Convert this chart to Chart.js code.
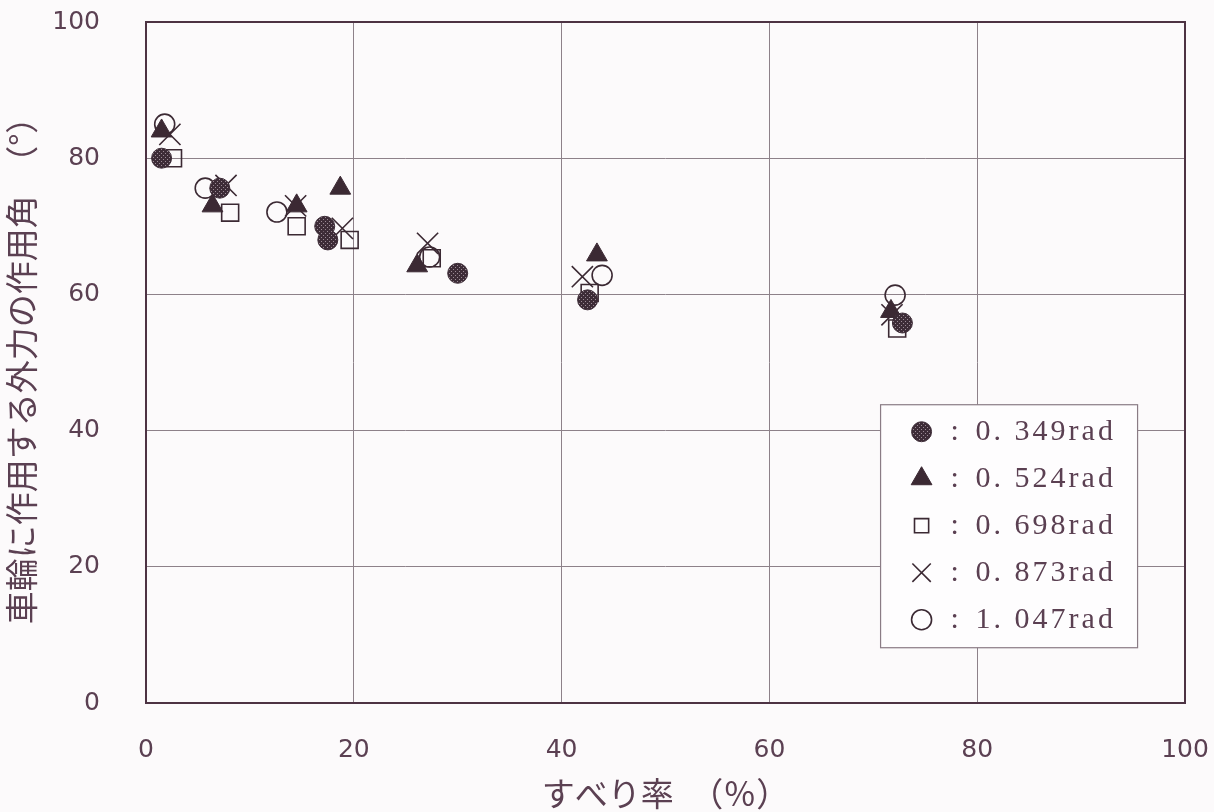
<!DOCTYPE html>
<html>
<head>
<meta charset="utf-8">
<script src="https://cdn.jsdelivr.net/npm/chart.js@4/dist/chart.umd.min.js"></script>
<style>
  html, body { margin: 0; padding: 0; background: #fcfafb; }
  #wrap { width: 1214px; height: 812px; }
</style>
</head>
<body>
<div id="wrap"><canvas id="c" width="1214" height="812"></canvas></div>
<script>
// Slip ratio (%) vs. angle of the external force acting on the wheel (deg)
const seriesLabels = ['0. 349rad', '0. 524rad', '0. 698rad', '0. 873rad', '1. 047rad'];

const slip349  = [1.5, 7.1, 17.2, 17.5, 30.0, 42.5, 72.8];
const angle349 = [80.0, 75.6, 70.0, 68.0, 63.1, 59.2, 55.8];

const slip524  = [1.5, 6.4, 14.5, 18.7, 26.1, 43.4, 71.7];
const angle524 = [84.0, 73.0, 73.0, 75.6, 64.2, 65.8, 57.5];

const slip698  = [2.6, 8.1, 14.5, 19.6, 27.5, 42.7, 72.3];
const angle698 = [80.0, 72.0, 70.0, 68.0, 65.3, 60.2, 55.0];

const slip873  = [2.3, 7.7, 14.4, 18.9, 27.1, 42.0, 71.8];
const angle873 = [83.5, 76.0, 73.0, 69.7, 67.5, 62.6, 57.0];

const slip1047  = [1.8, 5.7, 12.6, 27.3, 43.9, 72.1];
const angle1047 = [85.0, 75.6, 72.1, 65.5, 62.8, 59.9];

const xTicks = [0, 20, 40, 60, 80, 100];
const yTicks = [0, 20, 40, 60, 80, 100];

const xTitle = 'すべり率　（％）';
const yTitle = '車輪に作用する外力の作用角　（°）';

const INK = '#3b2933';
const TEXT = '#5b4052';

const canvas = document.getElementById('c');
const ctx0 = canvas.getContext('2d');

// stippled fill for the solid-circle series
function dotPattern() {
  const p = document.createElement('canvas');
  p.width = 4; p.height = 4;
  const g = p.getContext('2d');
  g.fillStyle = '#3d2c37';
  g.fillRect(0, 0, 4, 4);
  g.fillStyle = '#9c8b96';
  g.fillRect(1, 1, 1, 1);
  g.fillRect(3, 3, 1, 1);
  return ctx0.createPattern(p, 'repeat');
}

function pts(xs, ys) { return xs.map((x, i) => ({ x: x, y: ys[i] })); }

const styles = [
  { pointStyle: 'circle',   radius: 10, fill: dotPattern(), border: '#3d2c37', bw: 1 },
  { pointStyle: 'triangle', radius: 12, fill: INK, border: INK, bw: 1 },
  { pointStyle: 'rect',     radius: 12, fill: 'rgba(0,0,0,0)', border: INK, bw: 1.6 },
  { pointStyle: 'crossRot', radius: 15, fill: 'rgba(0,0,0,0)', border: INK, bw: 1.6 },
  { pointStyle: 'circle',   radius: 10, fill: 'rgba(0,0,0,0)', border: INK, bw: 1.6 }
];
const seriesData = [
  pts(slip349, angle349), pts(slip524, angle524), pts(slip698, angle698),
  pts(slip873, angle873), pts(slip1047, angle1047)
];

const datasets = seriesLabels.map((lab, i) => ({
  label: lab,
  data: seriesData[i],
  pointStyle: styles[i].pointStyle,
  pointRadius: styles[i].radius,
  pointHoverRadius: styles[i].radius,
  backgroundColor: styles[i].fill,
  borderColor: styles[i].border,
  borderWidth: styles[i].bw,
  showLine: false
}));

// frame around the plotting area
const framePlugin = {
  id: 'frame',
  beforeDatasetsDraw(chart) {
    const { ctx, chartArea: a } = chart;
    ctx.save();
    ctx.strokeStyle = '#4d3343';
    ctx.lineWidth = 2;
    ctx.strokeRect(a.left, a.top, a.right - a.left, a.bottom - a.top);
    ctx.restore();
  }
};

// boxed key in the lower right of the plot
const keyPlugin = {
  id: 'keyBox',
  afterDraw(chart) {
    const { ctx, chartArea: a } = chart;
    const x0 = a.left + (a.right - a.left) * 0.707;
    const y0 = a.top + (a.bottom - a.top) * 0.562;
    const w = 257, h = 243;
    ctx.save();
    ctx.fillStyle = '#fefdfe';
    ctx.fillRect(x0, y0, w, h);
    ctx.strokeStyle = '#8a7c85';
    ctx.lineWidth = 1.2;
    ctx.strokeRect(x0, y0, w, h);
    const legendR = [10, 12, 10, 13, 10];
    chart.data.datasets.forEach((ds, i) => {
      const cy = y0 + 27 + i * 47;
      const cx = x0 + 41;
      ctx.fillStyle = ds.backgroundColor;
      ctx.strokeStyle = ds.borderColor;
      ctx.lineWidth = ds.borderWidth;
      Chart.helpers.drawPoint(ctx, {
        pointStyle: ds.pointStyle, radius: legendR[i], rotation: 0, borderWidth: ds.borderWidth
      }, cx, cy);
      ctx.fillStyle = TEXT;
      ctx.font = '30px "Liberation Serif"';
      ctx.letterSpacing = '3px';
      ctx.textBaseline = 'middle';
      ctx.textAlign = 'left';
      ctx.fillText(':', x0 + 70, cy);
      ctx.fillText(ds.label, x0 + 95, cy);
    });
    ctx.restore();
  }
};

function noScalePadding(s) {
  s.paddingTop = 0; s.paddingBottom = 0; s.paddingLeft = 0; s.paddingRight = 0;
}

new Chart(canvas, {
  type: 'scatter',
  data: { datasets: datasets },
  options: {
    responsive: false,
    animation: false,
    events: [],
    layout: { padding: { top: 22, right: 29, left: 0, bottom: 0 } },
    plugins: {
      legend: { display: false },
      tooltip: { enabled: false }
    },
    scales: {
      x: {
        type: 'linear',
        min: 0, max: 100,
        afterFit(s) { s.height = 109; noScalePadding(s); },
        afterBuildTicks(s) { s.ticks = xTicks.map(v => ({ value: v })); },
        border: { display: false },
        grid: { color: '#8d8189', lineWidth: 1, drawTicks: false },
        ticks: { padding: 32, color: TEXT, font: { family: 'DejaVu Sans', size: 25 } },
        title: {
          display: true, text: xTitle, color: TEXT,
          font: { family: '"Noto Sans CJK JP"', size: 33 },
          padding: { top: 0, bottom: -1 }
        }
      },
      y: {
        type: 'linear',
        min: 0, max: 100,
        afterFit(s) { s.width = 146; noScalePadding(s); },
        afterBuildTicks(s) { s.ticks = yTicks.map(v => ({ value: v })); },
        border: { display: false },
        grid: { color: '#8d8189', lineWidth: 1, drawTicks: false },
        ticks: { padding: 46, color: TEXT, font: { family: 'DejaVu Sans', size: 25 } },
        title: {
          display: true, text: yTitle, color: TEXT,
          font: { family: '"Noto Sans CJK JP"', size: 33 },
          padding: { top: 2, bottom: 0 }
        }
      }
    }
  },
  plugins: [framePlugin, keyPlugin]
});
</script>
</body>
</html>
